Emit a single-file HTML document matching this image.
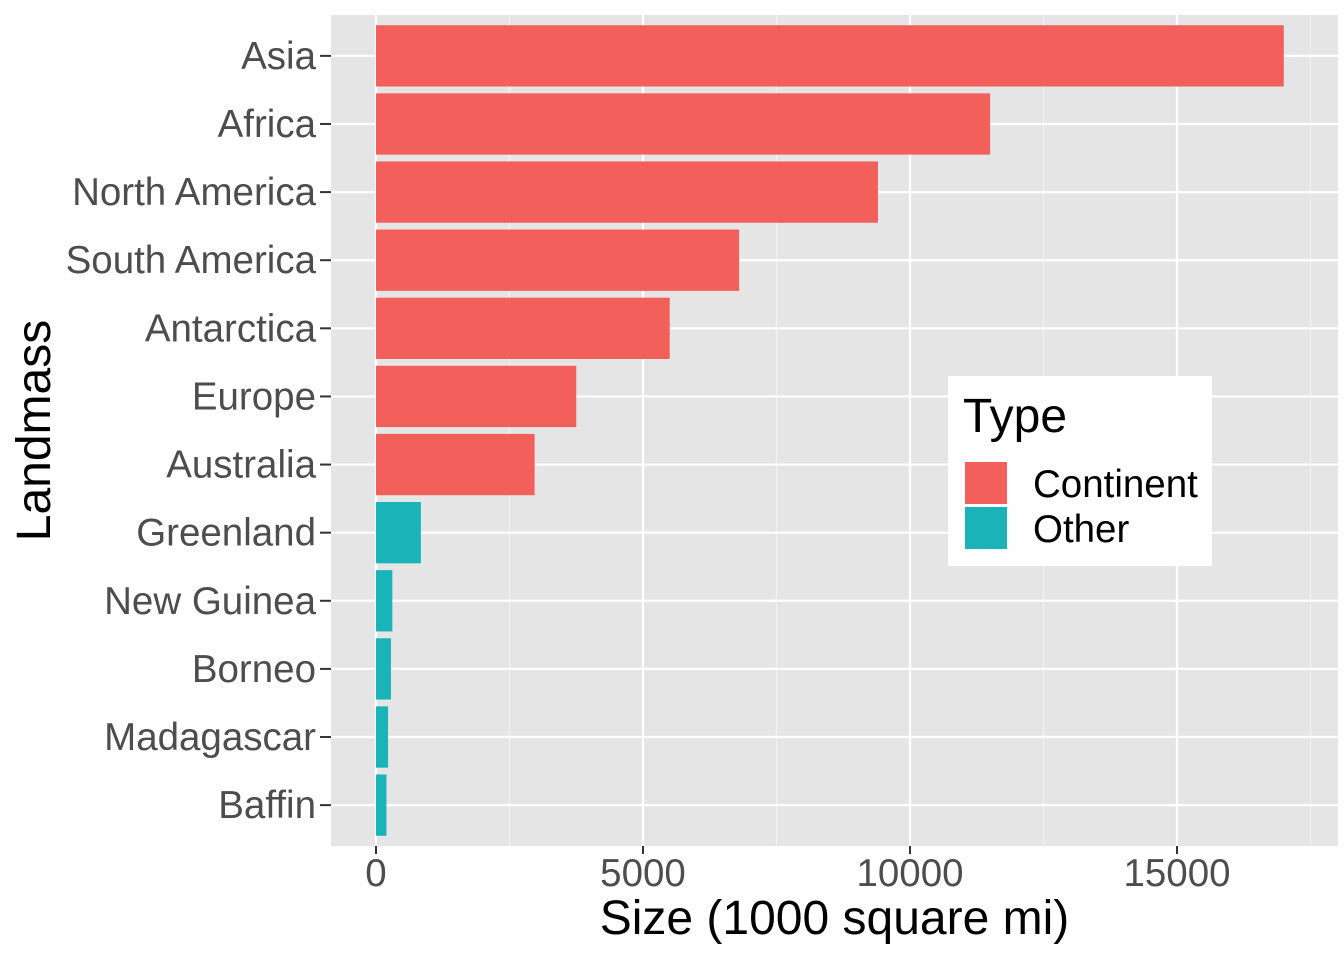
<!DOCTYPE html>
<html><head><meta charset="utf-8"><style>
body{margin:0;background:#fff;}
svg{display:block;font-family:"Liberation Sans",Arial,sans-serif;}
</style></head><body>
<svg id="chart" width="1344" height="960"></svg>
<script>
const categories=["Asia","Africa","North America","South America","Antarctica","Europe","Australia","Greenland","New Guinea","Borneo","Madagascar","Baffin"];
const sizes=[17000,11500,9400,6800,5500,3750,2970,840,306,280,226,196];
const types=["Continent","Continent","Continent","Continent","Continent","Continent","Continent","Other","Other","Other","Other","Other"];
const xTicks=[0,5000,10000,15000];
const xMinor=[2500,7500,12500,17500];
const legendLabels=["Continent","Other"];
const colors={Continent:"#f35f5b",Other:"#19b3b8"};
const NS="http://www.w3.org/2000/svg";
const svg=document.getElementById("chart");
function mk(tag,attrs,parent){const e=document.createElementNS(NS,tag);for(const k in attrs)e.setAttribute(k,attrs[k]);(parent||svg).appendChild(e);return e;}
const P={l:331,r:1338,t:15,b:846};
const x0=376,pxPer=267/5000;
const xs=v=>x0+v*pxPer;
const step=(P.b-P.t)/(categories.length-1+1.2);
const ys=i=>P.t+step*0.6+i*step;
const bw=step*0.9;
const panel=mk("rect",{x:P.l,y:P.t,width:P.r-P.l,height:P.b-P.t,fill:"#e5e5e5"});


xMinor.forEach(v=>{const l=mk("line",{x1:xs(v),x2:xs(v),y1:P.t,y2:P.b,stroke:"#f2f2f2","stroke-width":1.1});

});
xTicks.forEach(v=>{const l=mk("line",{x1:xs(v),x2:xs(v),y1:P.t,y2:P.b,stroke:"#fff","stroke-width":2.2});

});
categories.forEach((c,i)=>{const l=mk("line",{x1:P.l,x2:P.r,y1:ys(i),y2:ys(i),stroke:"#fff","stroke-width":2.2});

});
categories.forEach((c,i)=>{
const b=mk("rect",{x:xs(0),y:ys(i)-bw/2,width:xs(sizes[i])-xs(0),height:bw,fill:colors[types[i]]});


const t=mk("line",{x1:320,x2:P.l,y1:ys(i),y2:ys(i),stroke:"#333","stroke-width":2});


const tx=mk("text",{x:316,y:ys(i)+13,"text-anchor":"end","font-size":"38.5",fill:"#4d4d4d"});
tx.textContent=c;


});
xTicks.forEach(v=>{
const t=mk("line",{x1:xs(v),x2:xs(v),y1:P.b,y2:P.b+8,stroke:"#333","stroke-width":2});


const tx=mk("text",{x:xs(v),y:886,"text-anchor":"middle","font-size":"38.5",fill:"#4d4d4d"});
tx.textContent=v;


});
const xt=mk("text",{x:(P.l+P.r)/2,y:934,"text-anchor":"middle","font-size":"48",fill:"#000"});
xt.textContent="Size (1000 square mi)";


const yt=mk("text",{x:0,y:0,"text-anchor":"middle","font-size":"48",fill:"#000",transform:`translate(50,${(P.t+P.b)/2}) rotate(-90)`});
yt.textContent="Landmass";


const lg=mk("g",{});


mk("rect",{x:948,y:376,width:264,height:190,fill:"#fff"},lg);
const lt=mk("text",{x:963,y:432,"font-size":"48",fill:"#000"},lg);
lt.textContent="Type";


legendLabels.forEach((l,i)=>{
const k=mk("rect",{x:965,y:462+i*45,width:42,height:42,fill:colors[l]},lg);


const t=mk("text",{x:1033,y:497+i*45,"font-size":"38.5",fill:"#000"},lg);
t.textContent=l;


});
</script>
</body></html>
